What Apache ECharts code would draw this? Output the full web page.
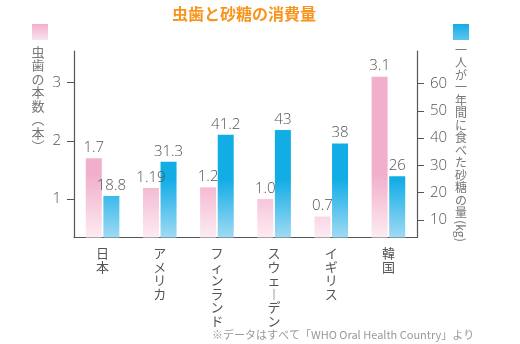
<!DOCTYPE html>
<html><head><meta charset="utf-8">
<script src="https://cdn.jsdelivr.net/npm/echarts@6/dist/echarts.min.js"></script>
<style>html,body{margin:0;padding:0;background:#fff}#c{width:520px;height:344px}</style>
</head><body><div id="c"></div>
<script>
const categories = ['日本', 'アメリカ', 'フィンランド', 'スウェーデン', 'イギリス', '韓国'];
const cavities = [1.7, 1.19, 1.2, 1.0, 0.7, 3.1];
const sugar = [18.8, 31.3, 41.2, 43, 38, 26];
const leftTicks = [1, 2, 3];
const rightTicks = [10, 20, 30, 40, 50, 60];
const titleText = '虫歯と砂糖の消費量';
const leftName = '虫歯の本数（本）';
const rightNameMain = '一人が一年間に食べた砂糖の量';
const rightNameUnit = '(kg)';
const noteText = '※データはすべて「WHO Oral Health Country」より';

const vmap = { 'ー': '︱', '（': '︵', '）': '︶' };
const vertical = s => Array.from(s).map(c => vmap[c] || c).join('\n');
const CJK = '"Noto Sans CJK JP", "Noto Sans", sans-serif';
const NUM = '"Open Sans", "Noto Sans", sans-serif';

const pinkGrad = { type: 'linear', x: 0, y: 175, x2: 0, y2: 240, global: true,
  colorStops: [{ offset: 0, color: '#f2afcb' }, { offset: 1, color: '#fdeef4' }] };
const blueGrad = { type: 'linear', x: 0, y: 180, x2: 0, y2: 240, global: true,
  colorStops: [{ offset: 0, color: '#13ade6' }, { offset: 1, color: '#a6dcf4' }] };

const chart = echarts.init(document.getElementById('c'), null, { renderer: 'canvas' });
chart.setOption({
  animation: false,
  backgroundColor: '#fff',
  title: { text: titleText, left: 172, top: 6, padding: 0,
    textStyle: { fontSize: 16, fontWeight: 'bold', color: '#f7941d', fontFamily: CJK } },
  grid: { left: 74, right: 103, top: 51, bottom: 106.5, containLabel: false },
  xAxis: {
    type: 'category', data: categories,
    axisLine: { lineStyle: { color: '#555', width: 1.2 } },
    axisTick: { show: false },
    axisLabel: { interval: 0, margin: 9, fontSize: 13, lineHeight: 13.5, color: '#555',
      fontFamily: CJK, formatter: v => vertical(v) }
  },
  yAxis: [
    { type: 'value', position: 'left', min: 0.34, max: 3.54,
      splitLine: { show: false },
      axisLine: { show: true, lineStyle: { color: '#555', width: 1.2 } },
      axisTick: { show: true, length: 7, customValues: leftTicks, lineStyle: { color: '#555' } },
      axisLabel: { customValues: leftTicks, margin: 13, fontSize: 15, fontWeight: 300, color: '#555', fontFamily: NUM } },
    { type: 'value', position: 'right', min: 3.6, max: 71.9,
      splitLine: { show: false },
      axisLine: { show: true, lineStyle: { color: '#555', width: 1.2 } },
      axisTick: { show: true, length: 7, customValues: rightTicks, lineStyle: { color: '#555' } },
      axisLabel: { customValues: rightTicks, margin: 13, fontSize: 15, fontWeight: 300, color: '#555', fontFamily: NUM } }
  ],
  series: [
    { type: 'bar', yAxisIndex: 0, data: cavities, barWidth: 16, barGap: '10%', clip: true,
      itemStyle: { color: pinkGrad },
      label: { show: true, position: 'top', distance: 3, fontSize: 15, fontWeight: 300, color: '#555', fontFamily: NUM,
        formatter: p => Number.isInteger(p.value) ? p.value.toFixed(1) : String(p.value) } },
    { type: 'bar', yAxisIndex: 1, data: sugar, barWidth: 16, clip: true,
      itemStyle: { color: blueGrad },
      label: { show: true, position: 'top', distance: 3, fontSize: 15, fontWeight: 300, color: '#555', fontFamily: NUM } }
  ],
  graphic: [
    { type: 'rect', shape: { x: 32, y: 24, width: 16, height: 16 },
      style: { fill: { type: 'linear', x: 0, y: 0, x2: 0, y2: 1,
        colorStops: [{ offset: 0, color: '#f2afcb' }, { offset: 1, color: '#fae3ed' }] } } },
    { type: 'rect', shape: { x: 453, y: 24, width: 16, height: 16 },
      style: { fill: { type: 'linear', x: 0, y: 0, x2: 0, y2: 1,
        colorStops: [{ offset: 0, color: '#13ade6' }, { offset: 1, color: '#5fc4ee' }] } } },
    { type: 'text', x: 38, y: 45,
      style: { text: vertical(leftName), fontSize: 13, lineHeight: 13.5, fill: '#777',
        align: 'center', verticalAlign: 'top', fontFamily: CJK } },
    { type: 'text', x: 461, y: 44,
      style: { text: vertical(rightNameMain), fontSize: 12, lineHeight: 12.5, fill: '#777',
        align: 'center', verticalAlign: 'top', fontFamily: CJK } },
    { type: 'text', x: 461, y: 231, rotation: -Math.PI / 2,
      style: { text: rightNameUnit, fontSize: 12, fill: '#777',
        align: 'center', verticalAlign: 'middle', fontFamily: CJK } },
    { type: 'text', x: 212, y: 335,
      style: { text: noteText, fontSize: 11, fill: '#999', align: 'left', verticalAlign: 'middle', fontFamily: CJK } }
  ]
});
</script>
</body></html>
